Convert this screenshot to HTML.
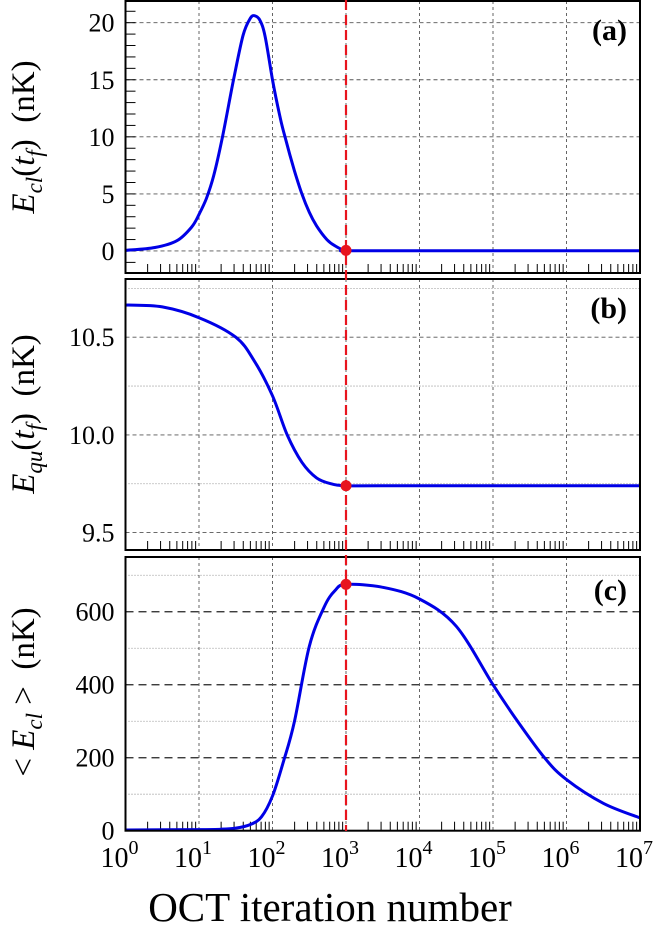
<!DOCTYPE html>
<html><head><meta charset="utf-8"><style>
html,body{margin:0;padding:0;background:#fff;}
svg{display:block;font-family:"Liberation Serif",serif;}
</style></head><body>
<svg id="chart" width="660" height="926">
<g id="panels"></g>
</svg>
<script>
// x: log10 of OCT iteration number
const aX=[0,0.4,0.7,0.9,1,1.1,1.2,1.32,1.47,1.6,1.7,1.76,1.83,1.9,2.0,2.1,2.17,2.3,2.4,2.5,2.6,2.74,2.85,3,3.3,7];
const aY=[0.05,0.3,0.9,2.1,3.2,4.6,6.6,10,15,18.9,20.4,20.6,20.2,18.8,15,11.8,10,7,5,3.4,2.2,1,0.45,0.05,0.02,0.02];
const bX=[0,0.5,1,1.5,1.75,2,2.2,2.4,2.6,2.8,3,3.5,7];
const bY=[10.665,10.655,10.6,10.5,10.38,10.2,10.0,9.86,9.78,9.75,9.74,9.74,9.74];
const cX=[0,1,1.3,1.5,1.7,1.85,2,2.15,2.3,2.5,2.7,2.85,3,3.5,4,4.5,5,5.3,5.7,6,6.5,7];
const cY=[2,3,4,7,17,38,95,190,300,505,612,658,675,667,635,560,400,310,200,140,75,35];
const xTicks=[0,1,2,3,4,5,6,7];
const markerX=3;
const aTicks=[0,5,10,15,20], aDotted=[];
const bTicks=[9.5,10.0,10.5], bDotted=[9.75,10.25,10.75];
const cTicks=[0,200,400,600], cDotted=[100,300,500,700];

const NS="http://www.w3.org/2000/svg";
const L=125.5,R=640,dec=(R-L)/7;
const sx=v=>L+v*dec;
const g=document.getElementById('panels');
function el(t,a,p){const e=document.createElementNS(NS,t);for(const k in a)e.setAttribute(k,a[k]);(p||g).appendChild(e);return e;}
function smooth(pts){let d='M'+pts[0][0].toFixed(1)+','+pts[0][1].toFixed(1);
 for(let i=0;i<pts.length-1;i++){const p0=pts[Math.max(0,i-1)],p1=pts[i],p2=pts[i+1],p3=pts[Math.min(pts.length-1,i+2)];
  const c1=[p1[0]+(p2[0]-p0[0])/6,p1[1]+(p2[1]-p0[1])/6],c2=[p2[0]-(p3[0]-p1[0])/6,p2[1]-(p3[1]-p1[1])/6];
  d+=' C'+c1.map(v=>v.toFixed(1)).join(',')+' '+c2.map(v=>v.toFixed(1)).join(',')+' '+p2[0].toFixed(1)+','+p2[1].toFixed(1);}
 return d;}
const panels=[
 {key:'a',top:1,bot:273,min:-1.93,max:21.9,xs:aX,ys:aY,ticks:aTicks,dots:aDotted,fmt:v=>String(v),minor:1,gridDash:'4,3',gridCol:'#555'},
 {key:'b',top:279,bot:550,min:9.411,max:10.798,xs:bX,ys:bY,ticks:bTicks,dots:bDotted,fmt:v=>v.toFixed(1),minor:0,gridDash:'4,3',gridCol:'#555'},
 {key:'c',top:557,bot:830.7,min:0,max:750,xs:cX,ys:cY,ticks:cTicks.slice(1),dots:cDotted,fmt:v=>String(v),minor:0,gridDash:'8,5',gridCol:'#222'}
];
panels.forEach(p=>{
 const sy=v=>p.bot-(v-p.min)/(p.max-p.min)*(p.bot-p.top);
 const pg=el('g',{});
 
 
 p.dots.forEach(v=>{const e=el('line',{x1:L,x2:R,y1:sy(v),y2:sy(v),stroke:'#777','stroke-width':0.8,'stroke-dasharray':'1,2'},pg);
  });
 p.ticks.forEach(v=>{const e=el('line',{x1:L,x2:R,y1:sy(v),y2:sy(v),stroke:p.gridCol,'stroke-width':p.key==='c'?1.3:0.9,'stroke-dasharray':p.gridDash},pg);
  });
 xTicks.slice(1,-1).forEach(v=>{const e=el('line',{x1:sx(v),x2:sx(v),y1:p.top,y2:p.bot,stroke:'#555','stroke-width':0.9,'stroke-dasharray':'3,3'},pg);
  });
 for(let d=0;d<7;d++)for(let m=2;m<=9;m++){const x=sx(d+Math.log10(m));
  const e=el('line',{x1:x,x2:x,y1:p.bot,y2:p.bot-9,stroke:'#000','stroke-width':1},pg);
  }
 if(p.minor){for(let v=Math.ceil(p.min);v<=p.max;v+=p.minor){const e=el('line',{x1:L,x2:L+10,y1:sy(v),y2:sy(v),stroke:'#000','stroke-width':1},pg);
  }}
 (p.key==='c'?cTicks:p.ticks).forEach(v=>{const t=el('text',{x:L-11,y:sy(v)+9,'text-anchor':'end','font-size':26},pg);t.textContent=p.fmt(v);
  });
 const pts=p.xs.map((x,i)=>[sx(x),sy(p.ys[i])]);
 const c=el('path',{d:smooth(pts),fill:'none',stroke:'#0000e6','stroke-width':3,'stroke-linejoin':'round'},pg);
 
 const mi=p.xs.indexOf(markerX);
 const dot=el('circle',{cx:sx(markerX),cy:sy(p.ys[mi]),r:5.5,fill:'#e8141e'},pg);
 
 const f=el('rect',{x:L,y:p.top,width:R-L,height:p.bot-p.top,fill:'none',stroke:'#000','stroke-width':2},pg);
 
 const lb=el('text',{x:627,y:p.top+(p.key==='c'?43:39),'text-anchor':'end','font-size':30,'font-weight':'bold'},pg);
 lb.textContent='('+p.key+')';
 
});
const rl=el('line',{x1:sx(markerX),x2:sx(markerX),y1:0,y2:831,stroke:'#e8141e','stroke-width':2.2,'stroke-dasharray':'10,5'});


xTicks.forEach(v=>{const t=el('text',{x:sx(v)-6,y:867,'text-anchor':'middle','font-size':28});
 t.innerHTML='10<tspan dy="-13" font-size="20">'+v+'</tspan>';
 
 });
const xt=el('text',{x:330,y:921,'text-anchor':'middle','font-size':41});
xt.textContent='OCT iteration number';


function ytitle(cy,html,name){const t=el('text',{x:0,y:0,'text-anchor':'middle','font-size':33,'xml:space':'preserve',transform:'translate(34,'+cy+') rotate(-90)'});
 t.setAttribute('style','white-space:pre');
 t.innerHTML=html;}
ytitle(137,'<tspan font-style="italic">E</tspan><tspan font-style="italic" font-size="23" dy="8">cl</tspan><tspan dy="-8">(</tspan><tspan font-style="italic">t</tspan><tspan font-style="italic" font-size="23" dy="8">f</tspan><tspan dy="-8">)  (nK)</tspan>','y-axis-title-a');
ytitle(414,'<tspan font-style="italic">E</tspan><tspan font-style="italic" font-size="23" dy="8">qu</tspan><tspan dy="-8">(</tspan><tspan font-style="italic">t</tspan><tspan font-style="italic" font-size="23" dy="8">f</tspan><tspan dy="-8">)  (nK)</tspan>','y-axis-title-b');
ytitle(692,'&lt; <tspan font-style="italic">E</tspan><tspan font-style="italic" font-size="23" dy="8">cl</tspan><tspan dy="-8"> &gt;  (nK)</tspan>','y-axis-title-c');
</script>
</body></html>
